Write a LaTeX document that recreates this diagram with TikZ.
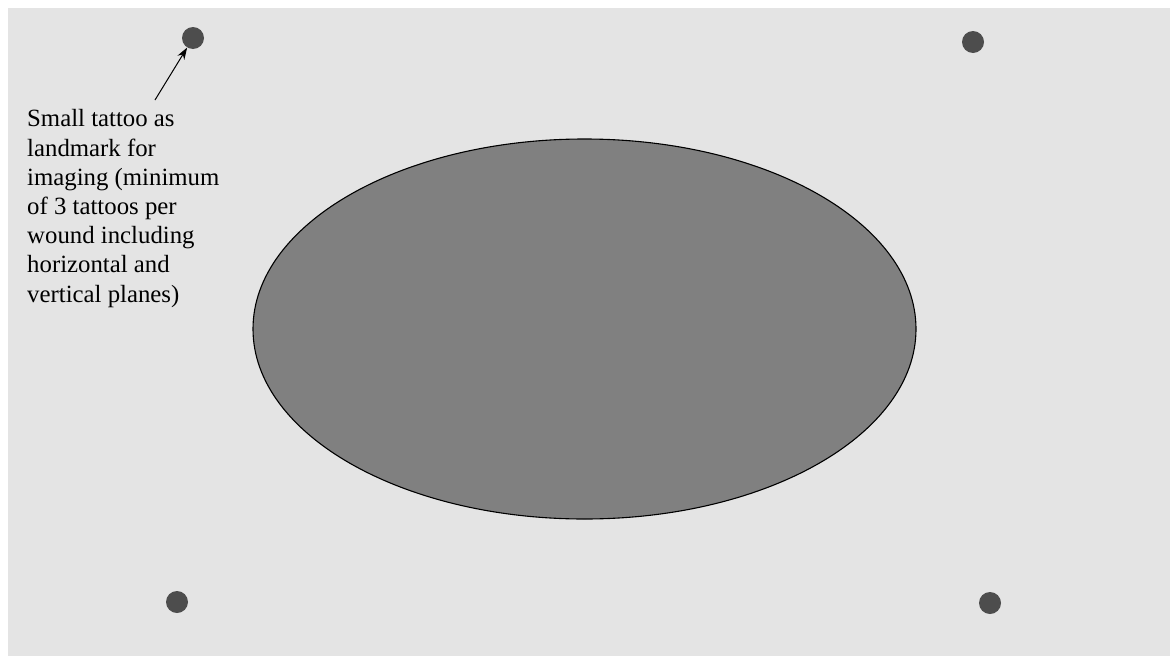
\documentclass[tikz,border=0pt]{standalone}
\usepackage{fontspec}
\setmainfont{Liberation Serif}
\usetikzlibrary{arrows.meta}
\definecolor{bggray}{HTML}{E4E4E4}
\definecolor{woundgray}{HTML}{808080}
\definecolor{dotgray}{HTML}{4D4D4D}
\begin{document}
\begin{tikzpicture}[x=1pt,y=-1pt,
  tattoo/.style={circle,fill=dotgray,draw=none,minimum size=22pt,inner sep=0pt},
  label/.style={align=left,inner sep=0pt,font=\fontsize{24.8}{29.17}\selectfont},
  pointer/.style={-{Stealth[length=12pt,width=8pt]},line width=1pt,black}]
\useasboundingbox (0,0) rectangle (1170,656);
\fill[white] (0,0) rectangle (1170,656);
\fill[bggray] (8,8) rectangle (1170,656);
\fill[woundgray,draw=black,line width=1.1pt] (584.5,329) ellipse [x radius=331.5, y radius=190];
\node[tattoo] (t1) at (193,38) {};
\node[tattoo] (t2) at (973,42) {};
\node[tattoo] (t3) at (177,602) {};
\node[tattoo] (t4) at (990,603) {};
\node[label,anchor=base west] (txt) at (27,302) {Small tattoo as\\landmark for\\imaging (minimum\\of 3 tattoos per\\wound including\\horizontal and\\vertical planes)};
\coordinate (tail) at (155,100);
\draw[pointer] (tail) -- (t1);
\end{tikzpicture}
\end{document}
